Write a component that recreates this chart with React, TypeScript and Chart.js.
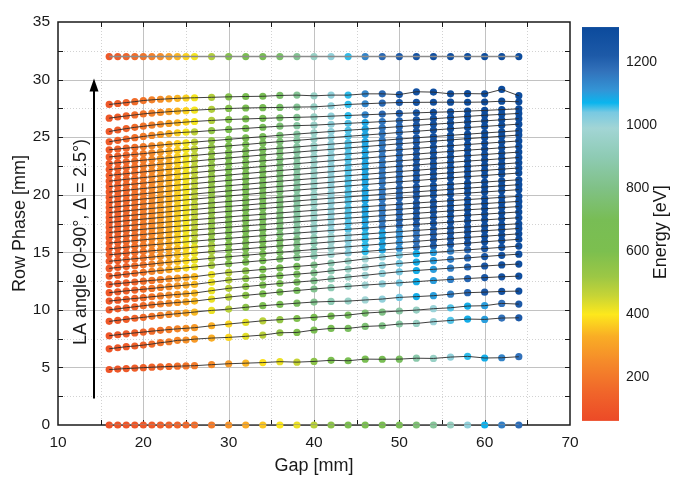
import { useEffect, useRef } from "react";
import { Chart, registerables } from "chart.js";

Chart.register(...registerables);

const FONT = "'Liberation Sans', Arial, Helvetica, sans-serif";
const INK = "#1a1a1a";

// ---------- data ----------
const GAP_MM = [16, 17, 18, 19, 20, 21, 22, 23, 24, 25, 26, 28, 30, 32, 34, 36, 38, 40, 42, 44, 46, 48, 50, 52, 54, 56, 58, 60, 62, 64];
const X_TICKS = [10, 20, 30, 40, 50, 60, 70];
const Y_TICKS = [0, 5, 10, 15, 20, 25, 30, 35];
const ENERGY_TICKS = [200, 400, 600, 800, 1000, 1200];
const ENERGY_BAR_RANGE = [63, 1310];
const ENERGY_AXIS_RANGE = [50, 1326];

const PHASE_ROW_0 = [0, 0, 0, 0, 0, 0, 0, 0, 0, 0, 0, 0, 0, 0, 0, 0, 0, 0, 0, 0, 0, 0, 0, 0, 0, 0, 0, 0, 0, 0];
const PHASE_ROW_32 = [32, 32, 32, 32, 32, 32, 32, 32, 32, 32, 32, 32, 32, 32, 32, 32, 32, 32, 32, 32, 32, 32, 32, 32, 32, 32, 32, 32, 32, 32];

// LA angle lines, 2.5° ... 87.5° (row phase in mm at each gap)
const LA_PHASES: number[][] = [
  [4.82, 4.86, 4.9, 4.94, 4.98, 5.02, 5.05, 5.08, 5.11, 5.13, 5.15, 5.24, 5.32, 5.37, 5.42, 5.5, 5.46, 5.52, 5.62, 5.58, 5.72, 5.71, 5.72, 5.8, 5.78, 5.9, 5.96, 5.82, 5.84, 5.93],
  [6.62, 6.71, 6.8, 6.86, 6.94, 7.03, 7.15, 7.23, 7.35, 7.38, 7.46, 7.55, 7.61, 7.7, 7.81, 8.01, 8.04, 8.25, 8.39, 8.39, 8.56, 8.62, 8.77, 8.82, 8.97, 9.08, 9.2, 9.17, 9.29, 9.31],
  [7.75, 7.84, 7.92, 8.0, 8.07, 8.15, 8.22, 8.29, 8.35, 8.4, 8.45, 8.62, 8.77, 8.91, 9.05, 9.15, 9.25, 9.35, 9.46, 9.55, 9.72, 9.81, 9.9, 9.98, 10.1, 10.18, 10.33, 10.36, 10.56, 10.5],
  [9.0, 9.09, 9.18, 9.27, 9.35, 9.44, 9.52, 9.6, 9.67, 9.74, 9.81, 9.95, 10.07, 10.22, 10.36, 10.47, 10.58, 10.68, 10.73, 10.76, 10.86, 10.94, 11.08, 11.15, 11.23, 11.36, 11.49, 11.54, 11.6, 11.63],
  [10.0, 10.09, 10.18, 10.27, 10.36, 10.44, 10.51, 10.58, 10.64, 10.7, 10.76, 10.94, 11.11, 11.26, 11.4, 11.55, 11.68, 11.81, 11.93, 12.04, 12.15, 12.25, 12.35, 12.45, 12.55, 12.64, 12.72, 12.8, 12.87, 12.93],
  [10.76, 10.84, 10.92, 10.99, 11.06, 11.14, 11.21, 11.28, 11.34, 11.4, 11.46, 11.67, 11.87, 12.02, 12.16, 12.29, 12.41, 12.53, 12.69, 12.85, 13.0, 13.16, 13.31, 13.42, 13.52, 13.62, 13.72, 13.81, 13.9, 13.98],
  [11.49, 11.57, 11.65, 11.72, 11.79, 11.86, 11.94, 12.01, 12.08, 12.15, 12.21, 12.4, 12.59, 12.72, 12.85, 12.97, 13.1, 13.22, 13.38, 13.54, 13.71, 13.87, 14.03, 14.15, 14.27, 14.39, 14.51, 14.63, 14.74, 14.84],
  [12.21, 12.28, 12.35, 12.42, 12.49, 12.56, 12.62, 12.69, 12.75, 12.82, 12.88, 13.07, 13.25, 13.38, 13.51, 13.64, 13.77, 13.89, 14.07, 14.24, 14.42, 14.59, 14.76, 14.88, 14.99, 15.1, 15.21, 15.32, 15.43, 15.54],
  [12.93, 13.01, 13.1, 13.18, 13.26, 13.34, 13.42, 13.49, 13.57, 13.65, 13.72, 13.87, 14.01, 14.15, 14.28, 14.42, 14.55, 14.68, 14.81, 14.94, 15.07, 15.19, 15.32, 15.44, 15.56, 15.68, 15.79, 15.91, 16.02, 16.13],
  [13.6, 13.68, 13.76, 13.83, 13.91, 13.98, 14.06, 14.13, 14.2, 14.27, 14.34, 14.48, 14.61, 14.74, 14.87, 15.0, 15.12, 15.24, 15.36, 15.48, 15.6, 15.72, 15.84, 15.95, 16.07, 16.18, 16.29, 16.39, 16.5, 16.6],
  [14.22, 14.29, 14.37, 14.44, 14.51, 14.58, 14.65, 14.72, 14.79, 14.86, 14.92, 15.06, 15.18, 15.3, 15.43, 15.55, 15.66, 15.78, 15.9, 16.01, 16.12, 16.23, 16.35, 16.45, 16.56, 16.67, 16.77, 16.87, 16.97, 17.07],
  [14.78, 14.85, 14.92, 14.99, 15.06, 15.13, 15.19, 15.26, 15.32, 15.38, 15.45, 15.57, 15.69, 15.81, 15.92, 16.04, 16.15, 16.26, 16.37, 16.48, 16.58, 16.69, 16.79, 16.9, 17.0, 17.1, 17.2, 17.29, 17.39, 17.48],
  [15.3, 15.37, 15.44, 15.51, 15.58, 15.65, 15.71, 15.78, 15.84, 15.9, 15.97, 16.09, 16.21, 16.33, 16.44, 16.56, 16.67, 16.78, 16.89, 17.0, 17.1, 17.21, 17.31, 17.42, 17.52, 17.62, 17.72, 17.81, 17.91, 18.0],
  [15.8, 15.87, 15.94, 16.01, 16.08, 16.15, 16.21, 16.28, 16.34, 16.4, 16.47, 16.59, 16.71, 16.83, 16.94, 17.06, 17.17, 17.28, 17.39, 17.5, 17.6, 17.71, 17.81, 17.92, 18.02, 18.12, 18.22, 18.31, 18.41, 18.5],
  [16.27, 16.34, 16.41, 16.48, 16.55, 16.62, 16.68, 16.75, 16.81, 16.87, 16.94, 17.06, 17.18, 17.3, 17.41, 17.53, 17.64, 17.75, 17.86, 17.97, 18.07, 18.18, 18.28, 18.39, 18.49, 18.59, 18.69, 18.78, 18.88, 18.97],
  [16.72, 16.79, 16.86, 16.93, 17.0, 17.07, 17.13, 17.2, 17.26, 17.32, 17.39, 17.51, 17.63, 17.75, 17.86, 17.98, 18.09, 18.2, 18.31, 18.42, 18.52, 18.63, 18.73, 18.84, 18.94, 19.04, 19.14, 19.23, 19.33, 19.42],
  [17.16, 17.23, 17.3, 17.37, 17.44, 17.51, 17.57, 17.64, 17.7, 17.76, 17.83, 17.95, 18.07, 18.19, 18.3, 18.42, 18.53, 18.64, 18.75, 18.86, 18.96, 19.07, 19.17, 19.28, 19.38, 19.48, 19.58, 19.67, 19.77, 19.86],
  [17.59, 17.66, 17.74, 17.81, 17.88, 17.95, 18.02, 18.09, 18.16, 18.23, 18.29, 18.43, 18.55, 18.67, 18.8, 18.92, 19.03, 19.15, 19.27, 19.38, 19.49, 19.6, 19.72, 19.82, 19.93, 20.04, 20.14, 20.24, 20.34, 20.44],
  [18.02, 18.09, 18.17, 18.24, 18.31, 18.38, 18.45, 18.52, 18.59, 18.66, 18.72, 18.86, 18.98, 19.1, 19.23, 19.35, 19.46, 19.58, 19.7, 19.81, 19.92, 20.03, 20.15, 20.25, 20.36, 20.47, 20.57, 20.67, 20.77, 20.87],
  [18.45, 18.52, 18.6, 18.67, 18.74, 18.81, 18.88, 18.95, 19.02, 19.09, 19.15, 19.29, 19.41, 19.53, 19.66, 19.78, 19.89, 20.01, 20.13, 20.24, 20.35, 20.46, 20.58, 20.68, 20.79, 20.9, 21.0, 21.1, 21.2, 21.3],
  [18.88, 18.96, 19.04, 19.11, 19.19, 19.26, 19.34, 19.41, 19.48, 19.55, 19.62, 19.76, 19.89, 20.02, 20.15, 20.28, 20.4, 20.52, 20.64, 20.76, 20.88, 21.0, 21.12, 21.23, 21.35, 21.46, 21.57, 21.67, 21.78, 21.88],
  [19.32, 19.4, 19.48, 19.55, 19.63, 19.7, 19.78, 19.85, 19.92, 19.99, 20.06, 20.2, 20.33, 20.46, 20.59, 20.72, 20.84, 20.96, 21.08, 21.2, 21.32, 21.44, 21.56, 21.67, 21.79, 21.9, 22.01, 22.11, 22.22, 22.32],
  [19.77, 19.85, 19.93, 20.0, 20.08, 20.15, 20.23, 20.3, 20.37, 20.44, 20.51, 20.65, 20.78, 20.91, 21.04, 21.17, 21.29, 21.41, 21.53, 21.65, 21.77, 21.89, 22.01, 22.12, 22.24, 22.35, 22.46, 22.56, 22.67, 22.77],
  [20.23, 20.31, 20.39, 20.46, 20.54, 20.61, 20.69, 20.76, 20.83, 20.9, 20.97, 21.11, 21.24, 21.37, 21.5, 21.63, 21.75, 21.87, 21.99, 22.11, 22.23, 22.35, 22.47, 22.58, 22.7, 22.81, 22.92, 23.02, 23.13, 23.23],
  [20.7, 20.78, 20.86, 20.93, 21.01, 21.08, 21.16, 21.23, 21.3, 21.37, 21.44, 21.58, 21.71, 21.84, 21.97, 22.1, 22.22, 22.34, 22.46, 22.58, 22.7, 22.82, 22.94, 23.05, 23.17, 23.28, 23.39, 23.49, 23.6, 23.7],
  [21.18, 21.26, 21.34, 21.41, 21.49, 21.56, 21.64, 21.71, 21.78, 21.85, 21.92, 22.06, 22.19, 22.32, 22.45, 22.58, 22.7, 22.82, 22.94, 23.06, 23.18, 23.3, 23.42, 23.53, 23.65, 23.76, 23.87, 23.97, 24.08, 24.18],
  [21.67, 21.75, 21.83, 21.9, 21.98, 22.05, 22.13, 22.2, 22.27, 22.34, 22.41, 22.55, 22.68, 22.81, 22.94, 23.07, 23.19, 23.31, 23.43, 23.55, 23.67, 23.79, 23.91, 24.02, 24.14, 24.25, 24.36, 24.46, 24.57, 24.67],
  [22.18, 22.26, 22.34, 22.41, 22.49, 22.56, 22.64, 22.71, 22.78, 22.85, 22.92, 23.06, 23.19, 23.32, 23.45, 23.58, 23.7, 23.82, 23.94, 24.06, 24.18, 24.3, 24.42, 24.53, 24.65, 24.76, 24.87, 24.97, 25.08, 25.18],
  [22.71, 22.78, 22.86, 22.93, 23.0, 23.07, 23.14, 23.21, 23.28, 23.35, 23.41, 23.55, 23.67, 23.79, 23.92, 24.04, 24.15, 24.27, 24.39, 24.5, 24.61, 24.72, 24.84, 24.94, 25.05, 25.16, 25.26, 25.36, 25.46, 25.56],
  [23.28, 23.35, 23.43, 23.5, 23.57, 23.64, 23.71, 23.78, 23.85, 23.92, 23.98, 24.12, 24.24, 24.36, 24.49, 24.61, 24.72, 24.84, 24.96, 25.07, 25.18, 25.29, 25.41, 25.51, 25.62, 25.73, 25.83, 25.93, 26.03, 26.13],
  [23.9, 23.97, 24.04, 24.11, 24.18, 24.25, 24.31, 24.38, 24.44, 24.5, 24.57, 24.69, 24.81, 24.93, 25.04, 25.16, 25.27, 25.38, 25.49, 25.6, 25.7, 25.81, 25.91, 26.02, 26.12, 26.22, 26.32, 26.41, 26.51, 26.6],
  [24.6, 24.72, 24.84, 24.95, 25.06, 25.15, 25.23, 25.31, 25.38, 25.43, 25.46, 25.57, 25.67, 25.76, 25.86, 25.95, 26.0, 26.04, 26.12, 26.2, 26.27, 26.35, 26.42, 26.5, 26.6, 26.7, 26.8, 26.9, 26.98, 27.06],
  [25.49, 25.62, 25.74, 25.85, 25.95, 26.04, 26.12, 26.19, 26.25, 26.31, 26.36, 26.45, 26.53, 26.58, 26.63, 26.68, 26.72, 26.76, 26.82, 26.88, 26.94, 27.0, 27.06, 27.11, 27.16, 27.2, 27.26, 27.32, 27.39, 27.46],
  [26.65, 26.75, 26.84, 26.93, 27.02, 27.09, 27.15, 27.21, 27.26, 27.3, 27.34, 27.42, 27.49, 27.53, 27.56, 27.58, 27.61, 27.63, 27.72, 27.84, 27.9, 27.96, 28.01, 28.02, 28.03, 28.04, 28.03, 28.05, 28.12, 28.07],
  [27.84, 27.92, 28.0, 28.08, 28.18, 28.24, 28.29, 28.33, 28.37, 28.4, 28.42, 28.46, 28.5, 28.53, 28.55, 28.62, 28.65, 28.59, 28.65, 28.65, 28.76, 28.76, 28.7, 28.94, 28.91, 28.76, 28.78, 28.76, 29.14, 28.6],
];

// photon energy [eV] at each gap
const E_ROW_0 = [90, 95, 100, 105, 110, 118, 126, 135, 145, 158, 170, 210, 270, 320, 360, 400, 420, 480, 560, 600, 620, 640, 660, 760, 840, 930, 1010, 1075, 1150, 1180];
const E_LINE_1 = [100, 108, 116, 125, 135, 145, 155, 167, 180, 195, 210, 250, 290, 340, 390, 420, 460, 560, 610, 640, 660, 690, 720, 880, 950, 1010, 1060, 1080, 1140, 1170];
const E_LINES_2_3 = [100, 110, 120, 135, 150, 170, 190, 215, 240, 265, 285, 330, 380, 430, 480, 540, 590, 640, 680, 720, 760, 800, 870, 940, 1000, 1050, 1080, 1100, 1170, 1220];
const E_LINES_4_8 = [105, 115, 130, 150, 170, 195, 225, 255, 285, 315, 345, 420, 480, 560, 610, 660, 720, 820, 900, 950, 990, 1010, 1040, 1080, 1100, 1150, 1200, 1240, 1270, 1290];
const E_LINES_9_12 = [115, 130, 150, 175, 200, 235, 270, 310, 350, 385, 420, 500, 580, 630, 680, 730, 800, 900, 980, 1020, 1060, 1090, 1120, 1170, 1220, 1250, 1280, 1290, 1300, 1300];
const E_LINES_MID = [120, 140, 160, 185, 215, 250, 290, 330, 370, 410, 470, 540, 610, 660, 710, 770, 860, 960, 1010, 1050, 1090, 1160, 1200, 1240, 1270, 1290, 1300, 1300, 1300, 1300];
const E_LINES_TOP = [110, 125, 145, 170, 195, 225, 260, 300, 340, 375, 410, 490, 580, 640, 690, 740, 830, 950, 1010, 1060, 1140, 1190, 1230, 1260, 1280, 1290, 1300, 1300, 1300, 1300];

const LA_ENERGIES: number[][] = [
  E_LINE_1,
  E_LINES_2_3, E_LINES_2_3,
  E_LINES_4_8, E_LINES_4_8, E_LINES_4_8, E_LINES_4_8, E_LINES_4_8,
  E_LINES_9_12, E_LINES_9_12, E_LINES_9_12, E_LINES_9_12,
  E_LINES_MID, E_LINES_MID, E_LINES_MID, E_LINES_MID, E_LINES_MID,
  E_LINES_MID, E_LINES_MID, E_LINES_MID, E_LINES_MID, E_LINES_MID,
  E_LINES_MID, E_LINES_MID, E_LINES_MID, E_LINES_MID, E_LINES_MID,
  E_LINES_MID, E_LINES_MID, E_LINES_MID, E_LINES_MID, E_LINES_MID,
  E_LINES_TOP, E_LINES_TOP, E_LINES_TOP,
];

// colour map of the energy bar
const CMAP_ENERGY = [63, 150, 250, 330, 400, 460, 520, 600, 700, 800, 900, 990, 1040, 1070, 1110, 1170, 1220, 1310];
const CMAP_COLOR = ["#ec4a27", "#f0642a", "#f58a2a", "#f9ad25", "#fde81c", "#c6d436", "#9cc745", "#7cbf4f", "#78bd55", "#80c186", "#8ecbb4", "#a2d5d5", "#78c9e2", "#0ab5ee", "#3395d6", "#3272bb", "#1d5aa8", "#0b4a9c"];

function hexRgb(h: string): number[] {
  return [parseInt(h.slice(1, 3), 16), parseInt(h.slice(3, 5), 16), parseInt(h.slice(5, 7), 16)];
}
const CMAP_RGB = CMAP_COLOR.map(hexRgb);

function energyColor(e: number): string {
  const E = CMAP_ENERGY;
  if (e <= E[0]) return CMAP_COLOR[0];
  for (let i = 1; i < E.length; i++) {
    if (e <= E[i]) {
      const t = (e - E[i - 1]) / (E[i] - E[i - 1]);
      const a = CMAP_RGB[i - 1];
      const b = CMAP_RGB[i];
      const c = a.map((v, j) => Math.round(v + (b[j] - v) * t));
      return `rgb(${c[0]},${c[1]},${c[2]})`;
    }
  }
  return CMAP_COLOR[CMAP_COLOR.length - 1];
}

const decorPlugin = {
  id: "decor",
  beforeDatasetsDraw(chart: any) {
    const { ctx, chartArea: a, scales } = chart;
    const x = scales.x;
    const y = scales.y;
    const px = (v: number) => Math.round(x.getPixelForValue(v)) + 0.5;
    const py = (v: number) => Math.round(y.getPixelForValue(v)) + 0.5;
    ctx.save();
    // minor dotted grid
    ctx.strokeStyle = "#d2d2d2";
    ctx.lineWidth = 1;
    ctx.setLineDash([1, 2]);
    ctx.beginPath();
    for (let v = 15; v < 70; v += 10) {
      ctx.moveTo(px(v), a.top);
      ctx.lineTo(px(v), a.bottom);
    }
    for (let v = 2.5; v < 35; v += 5) {
      ctx.moveTo(a.left, py(v));
      ctx.lineTo(a.right, py(v));
    }
    ctx.stroke();
    // major grid
    ctx.setLineDash([]);
    ctx.strokeStyle = "#c2c2c2";
    ctx.beginPath();
    for (let v = 20; v < 70; v += 10) {
      ctx.moveTo(px(v), a.top);
      ctx.lineTo(px(v), a.bottom);
    }
    for (let v = 5; v < 35; v += 5) {
      ctx.moveTo(a.left, py(v));
      ctx.lineTo(a.right, py(v));
    }
    ctx.stroke();
    // inward ticks
    ctx.strokeStyle = INK;
    ctx.lineWidth = 1;
    ctx.beginPath();
    for (let v = 15; v < 70; v += 5) {
      ctx.moveTo(px(v), a.bottom);
      ctx.lineTo(px(v), a.bottom - 5);
      ctx.moveTo(px(v), a.top);
      ctx.lineTo(px(v), a.top + 5);
    }
    for (let v = 2.5; v < 35; v += 2.5) {
      ctx.moveTo(a.left, py(v));
      ctx.lineTo(a.left + 5, py(v));
      ctx.moveTo(a.right, py(v));
      ctx.lineTo(a.right - 5, py(v));
    }
    ctx.stroke();
    // frame
    ctx.lineWidth = 1.5;
    ctx.strokeRect(a.left, a.top, a.right - a.left, a.bottom - a.top);
    ctx.restore();
  },
  afterDraw(chart: any) {
    const { ctx, chartArea: a, scales } = chart;
    const x = scales.x;
    const y = scales.y;
    const e = scales.e;
    ctx.save();
    // colour bar
    const yTop = e.getPixelForValue(ENERGY_BAR_RANGE[1]);
    const yBot = e.getPixelForValue(ENERGY_BAR_RANGE[0]);
    const grad = ctx.createLinearGradient(0, yBot, 0, yTop);
    const span = ENERGY_BAR_RANGE[1] - ENERGY_BAR_RANGE[0];
    CMAP_ENERGY.forEach((en, i) => {
      grad.addColorStop(Math.min(1, Math.max(0, (en - ENERGY_BAR_RANGE[0]) / span)), CMAP_COLOR[i]);
    });
    ctx.fillStyle = grad;
    ctx.fillRect(a.right + 12, yTop, 37, yBot - yTop);
    // colour bar title
    ctx.fillStyle = INK;
    ctx.font = `18px ${FONT}`;
    ctx.textAlign = "center";
    ctx.textBaseline = "middle";
    ctx.save();
    ctx.translate(a.right + 91, e.getPixelForValue(660));
    ctx.rotate(-Math.PI / 2);
    ctx.fillText("Energy [eV]", 0, 0);
    ctx.restore();
    // LA angle arrow
    const ax = Math.round(x.getPixelForValue(14.2));
    const ay0 = y.getPixelForValue(2.3);
    const ay1 = y.getPixelForValue(30.1);
    ctx.strokeStyle = "#000";
    ctx.lineWidth = 2;
    ctx.beginPath();
    ctx.moveTo(ax, ay0);
    ctx.lineTo(ax, ay1 + 10);
    ctx.stroke();
    ctx.fillStyle = "#000";
    ctx.beginPath();
    ctx.moveTo(ax, ay1);
    ctx.lineTo(ax - 4.5, ay1 + 13);
    ctx.lineTo(ax + 4.5, ay1 + 13);
    ctx.closePath();
    ctx.fill();
    // LA angle label
    ctx.fillStyle = INK;
    ctx.save();
    ctx.translate(x.getPixelForValue(12.7), y.getPixelForValue(15.9));
    ctx.rotate(-Math.PI / 2);
    ctx.fillText("LA angle (0-90°, Δ = 2.5°)", 0, 0);
    ctx.restore();
    ctx.restore();
  },
};

export default function App() {
  const ref = useRef<HTMLCanvasElement | null>(null);

  useEffect(() => {
    if (!ref.current) return;
    const rows: { phase: number[]; energy: number[]; line: string; width: number }[] = [];
    rows.push({ phase: PHASE_ROW_0, energy: E_ROW_0, line: "#8c8c8c", width: 1.2 });
    LA_PHASES.forEach((p, i) => rows.push({ phase: p, energy: LA_ENERGIES[i], line: "#2a2a2a", width: 0.9 }));
    rows.push({ phase: PHASE_ROW_32, energy: E_LINES_TOP, line: "#8c8c8c", width: 1.5 });

    const datasets: any[] = [];
    rows.forEach((r) => {
      const pts = GAP_MM.map((g, i) => ({ x: g, y: r.phase[i] }));
      datasets.push({
        data: pts,
        showLine: false,
        pointRadius: 3.6,
        pointBorderWidth: 0,
        pointBackgroundColor: r.energy.map(energyColor),
        order: 2,
        clip: false,
      });
      datasets.push({
        data: pts,
        showLine: true,
        borderColor: r.line,
        borderWidth: r.width,
        pointRadius: 0,
        fill: false,
        tension: 0,
        order: 1,
      });
    });

    const tickFont = { family: FONT, size: 15.5 };
    const titleFont = { family: FONT, size: 18 };
    const plain = (v: any) => String(v);

    const chart = new Chart(ref.current, {
      type: "scatter",
      data: { datasets },
      options: {
        animation: false,
        responsive: false,
        events: [],
        layout: { padding: { top: 22, left: 0, right: 0, bottom: 0 } },
        plugins: { legend: { display: false }, tooltip: { enabled: false } },
        scales: {
          x: {
            type: "linear",
            position: "bottom",
            min: 10,
            max: 70,
            afterBuildTicks: (s: any) => { s.ticks = X_TICKS.map((v) => ({ value: v })); },
            afterFit: (s: any) => { s.height = 52; },
            grid: { display: false, drawTicks: false },
            border: { display: false },
            ticks: { font: tickFont, color: INK, padding: 8, maxRotation: 0, autoSkip: false, callback: plain },
            title: { display: true, text: "Gap [mm]", font: titleFont, color: INK, padding: { top: 0, bottom: 0 } },
          },
          y: {
            type: "linear",
            position: "left",
            min: 0,
            max: 35,
            afterBuildTicks: (s: any) => { s.ticks = Y_TICKS.map((v) => ({ value: v })); },
            afterFit: (s: any) => { s.width = 58; },
            grid: { display: false, drawTicks: false },
            border: { display: false },
            ticks: { font: tickFont, color: INK, padding: 8, autoSkip: false, callback: plain },
            title: { display: true, text: "Row Phase [mm]", font: titleFont, color: INK, padding: { top: 9, bottom: 0 } },
          },
          e: {
            type: "linear",
            position: "right",
            min: ENERGY_AXIS_RANGE[0],
            max: ENERGY_AXIS_RANGE[1],
            afterBuildTicks: (s: any) => { s.ticks = ENERGY_TICKS.map((v) => ({ value: v })); },
            afterFit: (s: any) => { s.width = 107; },
            grid: { display: true, drawOnChartArea: false, drawTicks: true, tickLength: 54, color: "rgba(0,0,0,0)" },
            border: { display: false },
            ticks: { font: { family: FONT, size: 14 }, color: INK, padding: 2, autoSkip: false, callback: plain },
          },
        },
      } as any,
      plugins: [decorPlugin],
    });
    return () => chart.destroy();
  }, []);

  return (
    <div style={{ position: "fixed", left: 0, top: 0, width: 677, height: 477, background: "#fff" }}>
      <canvas ref={ref} width={677} height={477} style={{ display: "block" }} />
    </div>
  );
}
